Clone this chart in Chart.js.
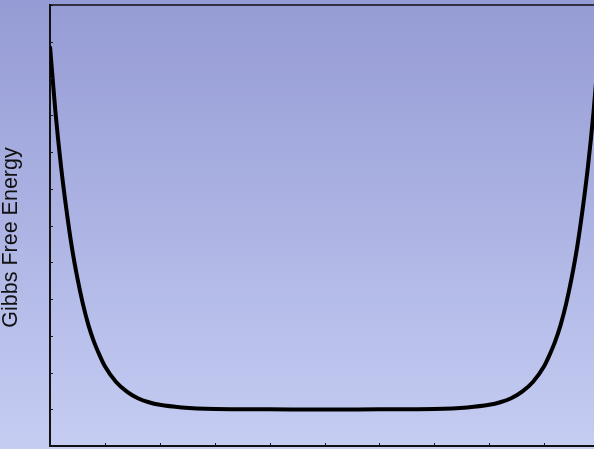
<!DOCTYPE html>
<html>
<head>
<meta charset="utf-8">
<script src="https://cdn.jsdelivr.net/npm/chart.js@4.4.1/dist/chart.umd.min.js"></script>
<style>
    html, body { margin: 0; padding: 0; overflow: hidden; background: #c5cdf3; }
    #contenedor { width: 610px; height: 470px; }
</style>
</head>
<body>
<div id="contenedor"><canvas id="graficaGibbs"></canvas></div>
<script>
// composicion (eje x) y energia libre de Gibbs (eje y)
const composicion = [0, 0.1, 0.2, 0.3, 0.4, 0.5, 0.6, 0.7, 0.8, 0.9, 1.0, 1.2, 1.4, 1.6, 1.8, 2.0, 2.4, 3.0, 4.0,
                     5.0, 6.0, 7.0, 7.6, 8.0, 8.2, 8.4, 8.6, 8.8, 9.0, 9.1, 9.2, 9.3, 9.4, 9.5, 9.6, 9.7, 9.8, 9.9, 10];
const energiaG    = [10.87, 9.08, 7.62, 6.42, 5.39, 4.56, 3.86, 3.29, 2.84, 2.48, 2.17, 1.75, 1.48, 1.30, 1.19, 1.12, 1.05, 1.01, 1.0,
                     0.99, 1.0, 1.01, 1.05, 1.12, 1.19, 1.30, 1.48, 1.75, 2.17, 2.48, 2.84, 3.29, 3.86, 4.56, 5.39, 6.42, 7.62, 9.08, 10.87];
const ejeX = { min: 0, max: 10, paso: 1 };
const ejeY = { min: 0, max: 12, paso: 1 };
const tituloY = "Gibbs Free Energy";

const puntos = composicion.map((x, i) => ({ x: x, y: energiaG[i] }));

const fondoDegradado = {
    id: 'fondoDegradado',
    beforeDraw(chart) {
        const { ctx, width, height } = chart;
        const grad = ctx.createLinearGradient(0, 0, 0, 449);
        grad.addColorStop(0, '#959bd4');
        grad.addColorStop(1, '#c5cdf3');
        ctx.save();
        ctx.fillStyle = grad;
        ctx.fillRect(0, 0, width, height);
        ctx.restore();
    }
};

// marcas cortas hacia dentro y borde superior
const marcasInternas = {
    id: 'marcasInternas',
    afterDatasetsDraw(chart) {
        const { ctx, chartArea, scales } = chart;
        ctx.save();
        ctx.strokeStyle = '#1a1a1a';
        ctx.lineWidth = 1;
        scales.y.ticks.forEach(t => {
            const py = Math.round(scales.y.getPixelForValue(t.value)) + 0.5;
            ctx.beginPath();
            ctx.moveTo(chartArea.left, py);
            ctx.lineTo(chartArea.left + 3, py);
            ctx.stroke();
        });
        scales.x.ticks.forEach(t => {
            const px = Math.round(scales.x.getPixelForValue(t.value)) + 0.5;
            ctx.beginPath();
            ctx.moveTo(px, chartArea.bottom);
            ctx.lineTo(px, chartArea.bottom - 3);
            ctx.stroke();
        });
        ctx.strokeStyle = '#111';
        ctx.lineWidth = 1.5;
        ctx.beginPath();
        ctx.moveTo(chartArea.left, chartArea.top);
        ctx.lineTo(chartArea.right, chartArea.top);
        ctx.stroke();
        ctx.restore();
    }
};

const ctx = document.getElementById("graficaGibbs").getContext("2d");

new Chart(ctx, {
    type: 'line',
    data: {
        datasets: [{
            label: tituloY,
            data: puntos,
            borderColor: '#000',
            borderWidth: 4,
            pointRadius: 0,
            fill: false,
            cubicInterpolationMode: 'monotone'
        }]
    },
    options: {
        responsive: true,
        maintainAspectRatio: false,
        animation: false,
        layout: { padding: { top: 5, left: 0, right: 11, bottom: 0 } },
        plugins: {
            legend: { display: false },
            tooltip: { enabled: false },
            title: {
                display: true,
                position: 'left',
                text: tituloY,
                color: '#111',
                font: { family: "'Liberation Sans', Arial, sans-serif", size: 21.5, weight: 'normal', lineHeight: 1 },
                padding: 0
            }
        },
        scales: {
            x: {
                type: 'linear',
                min: ejeX.min,
                max: ejeX.max,
                ticks: { display: false, stepSize: ejeX.paso },
                grid: { display: true, drawOnChartArea: false, drawTicks: false },
                border: { display: true, color: '#111', width: 2 },
                afterFit: s => { s.height = 24; }
            },
            y: {
                min: ejeY.min,
                max: ejeY.max,
                ticks: { display: false, stepSize: ejeY.paso },
                grid: { display: true, drawOnChartArea: false, drawTicks: false },
                border: { display: true, color: '#111', width: 2 },
                afterFit: s => { s.width = 28.5; }
            }
        }
    },
    plugins: [fondoDegradado, marcasInternas]
});
</script>
</body>
</html>
